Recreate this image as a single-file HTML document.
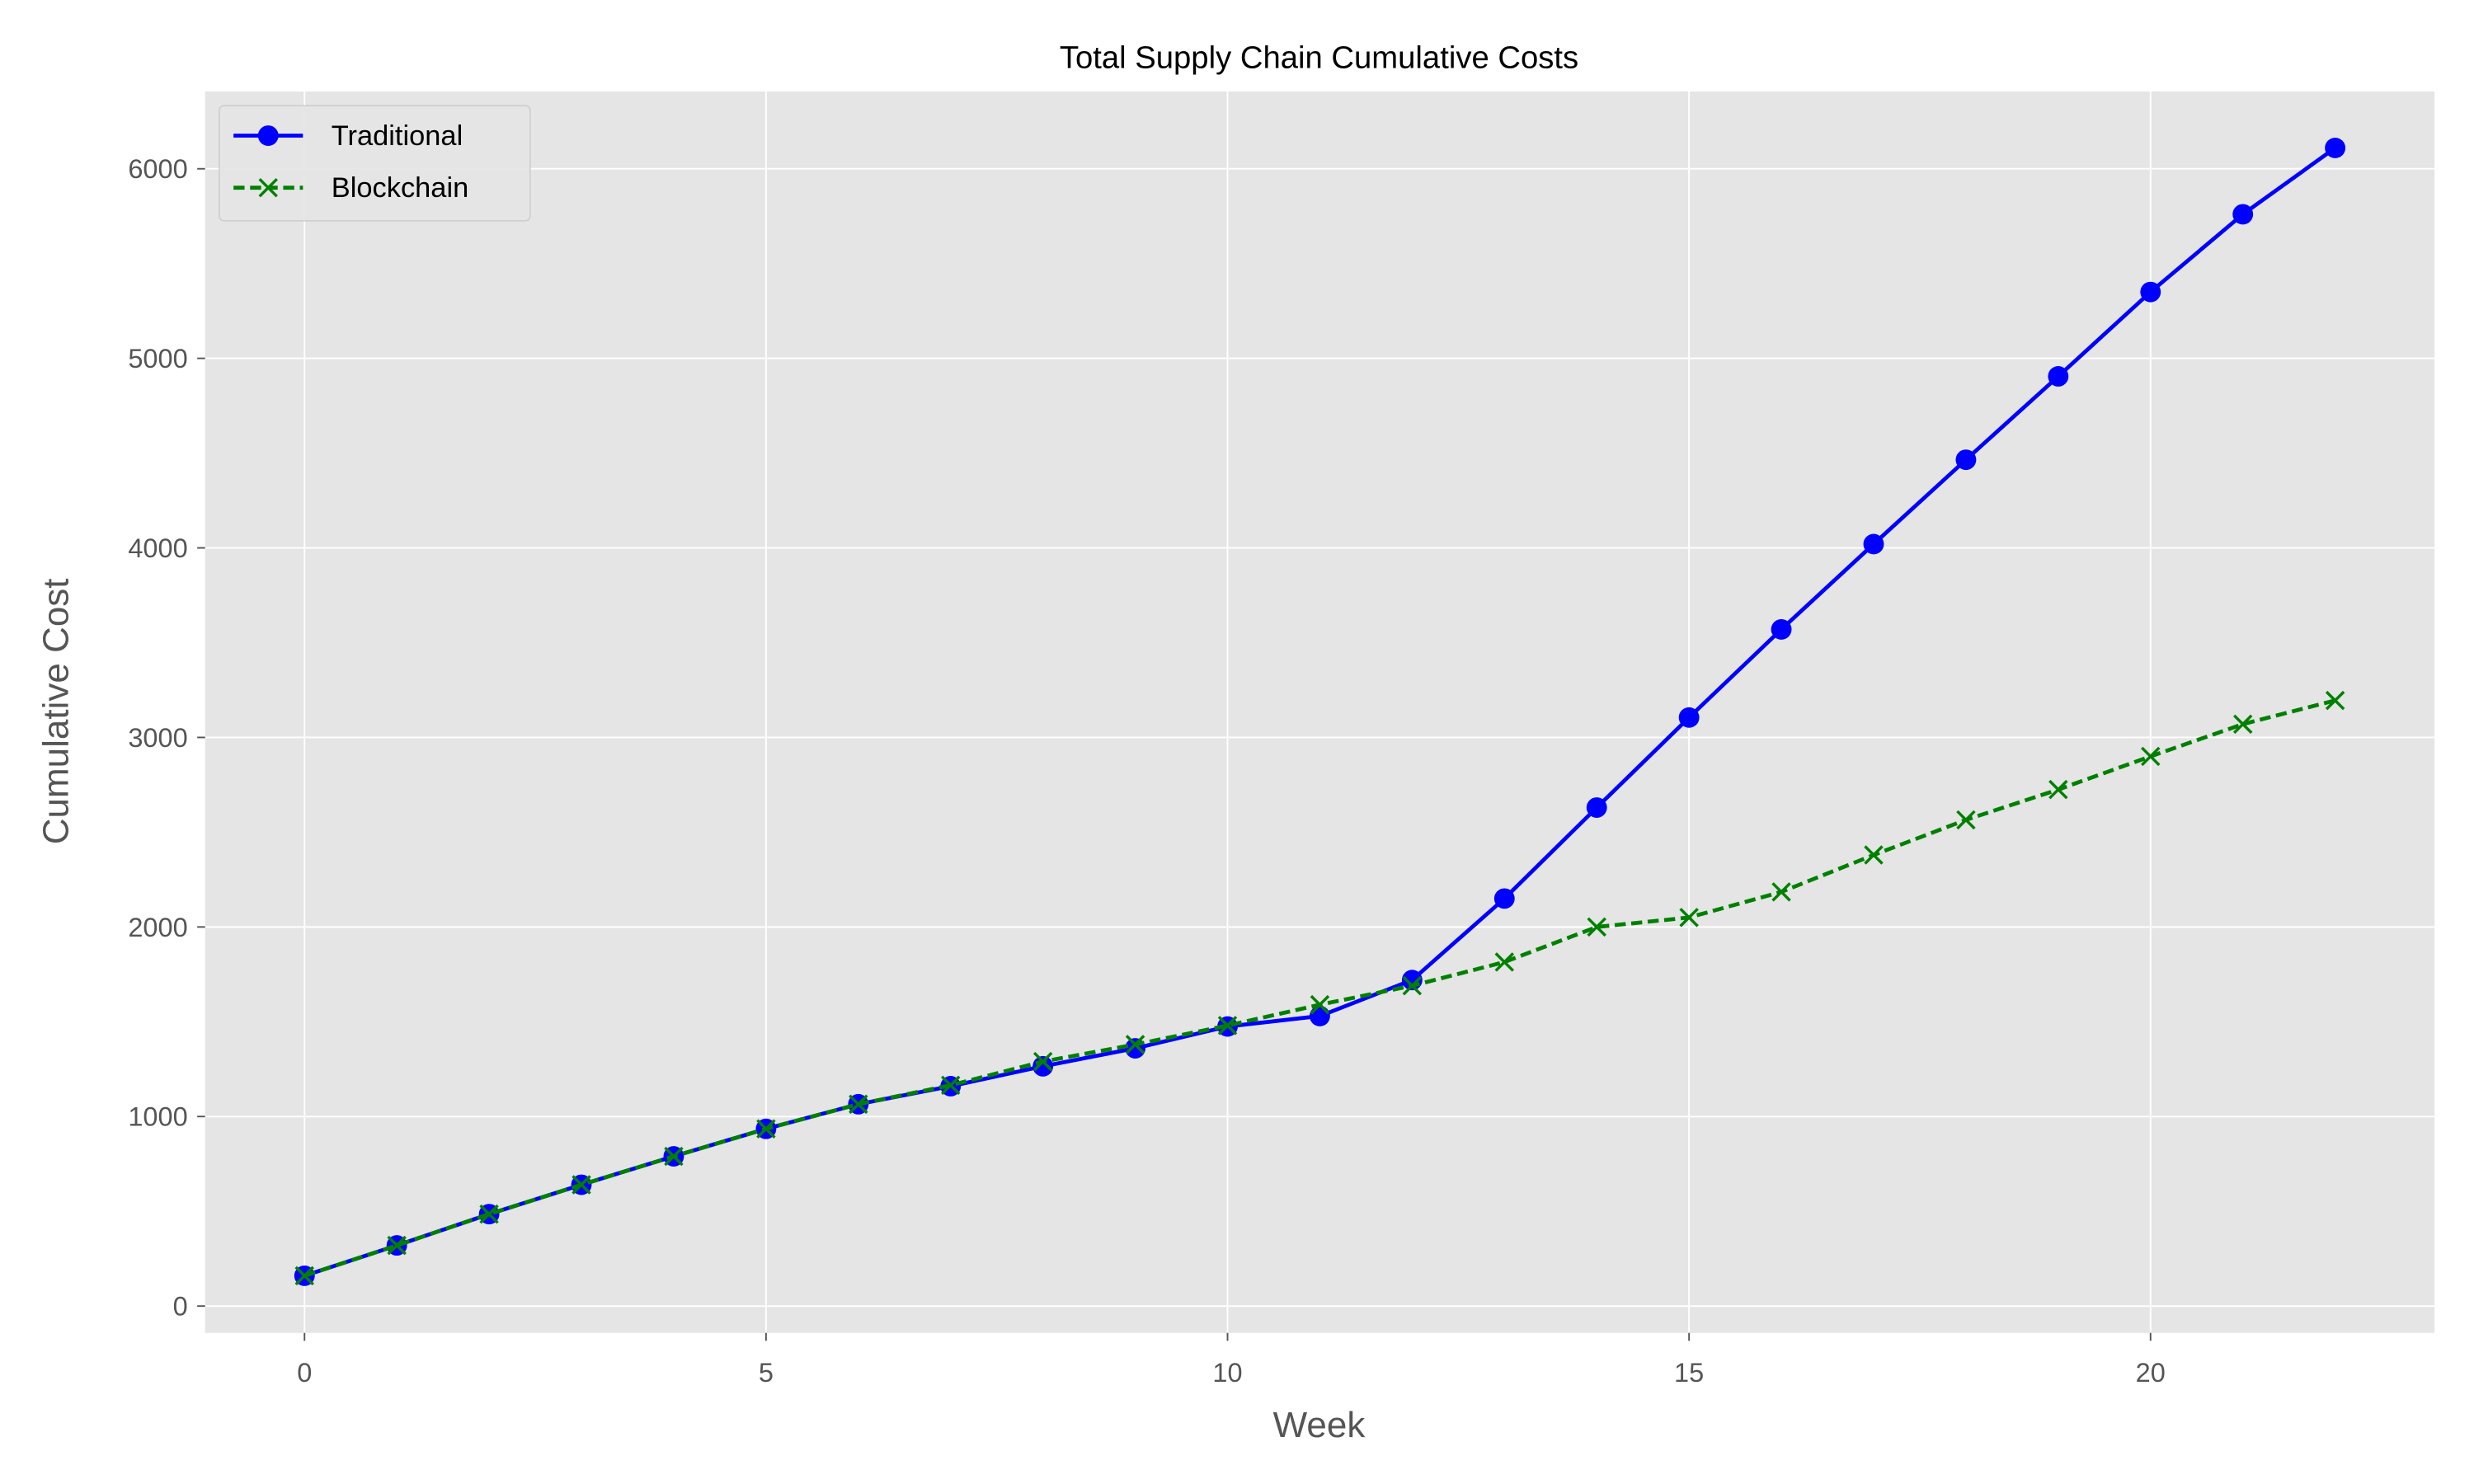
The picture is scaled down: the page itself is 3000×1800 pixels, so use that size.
<!DOCTYPE html>
<html><head><meta charset="utf-8"><style>
html,body{margin:0;padding:0;background:#fff;}
svg{display:block;font-family:"Liberation Sans","DejaVu Sans",sans-serif;}
</style></head><body>
<svg id="chart" width="3000" height="1800" viewBox="0 0 1568 940.8" xmlns="http://www.w3.org/2000/svg">
<rect x="0" y="0" width="1568" height="940.8" fill="#fff"/>
<rect x="130" y="58" width="1413" height="787" fill="#e5e5e5"/>
<g id="grid"></g>
<g id="ticks"></g>
<g id="series"></g>
<text x="836" y="43" text-anchor="middle" font-size="20" fill="#000">Total Supply Chain Cumulative Costs</text>
<text x="836" y="911" text-anchor="middle" font-size="23" fill="#555">Week</text>
<text transform="translate(43,451) rotate(-90)" text-anchor="middle" font-size="23" fill="#555">Cumulative Cost</text>
<g>
<rect x="139" y="67" width="197" height="73" rx="3" fill="#e5e5e5" stroke="#ccc" stroke-width="0.8" opacity="0.95"/>
<g>
<line x1="148" y1="86" x2="192" y2="86" stroke="#0000ff" stroke-width="2.5"/>
<circle cx="170" cy="86" r="6.5" fill="#0000ff"/>
<text x="210" y="92" font-size="18" fill="#000">Traditional</text>
</g>
<g>
<line x1="148" y1="119" x2="192" y2="119" stroke="#008000" stroke-width="2.5" stroke-dasharray="7,3.5"/>
<path d="M164.5,113.5 L175.5,124.5 M175.5,113.5 L164.5,124.5" stroke="#008000" stroke-width="1.8"/>
<text x="210" y="125" font-size="18" fill="#000">Blockchain</text>
</g>
</g>
</svg>
<script>
const weeks = [0,1,2,3,4,5,6,7,8,9,10,11,12,13,14,15,16,17,18,19,20,21,22];
const traditional = [160,320,485,640,790,935,1065,1160,1265,1360,1475,1530,1720,2150,2630,3105,3570,4020,4465,4905,5350,5760,6110];
const blockchain = [160,320,485,640,790,935,1065,1165,1290,1380,1480,1590,1690,1815,2000,2050,2185,2380,2565,2725,2900,3070,3195];
const xTicks = [0,5,10,15,20];
const yTicks = [0,1000,2000,3000,4000,5000,6000];

const NS = "http://www.w3.org/2000/svg";
function xs(v){ return 193 + v * (1480 - 193) / 22; }
function ys(v){ return 828 - v * (828 - 107) / 6000; }
function mk(tag, attrs, parent){
  const e = document.createElementNS(NS, tag);
  for (const k in attrs) e.setAttribute(k, attrs[k]);
  parent.appendChild(e);
  return e;
}
const grid = document.getElementById('grid');
const ticks = document.getElementById('ticks');
const series = document.getElementById('series');

xTicks.forEach(t => {
  const l = mk('line', {x1: xs(t), x2: xs(t), y1: 58, y2: 845, stroke: '#fff', 'stroke-width': 1}, grid);
  
  
  mk('line', {x1: xs(t), x2: xs(t), y1: 845, y2: 850, stroke: '#555', 'stroke-width': 1}, ticks);
  const tx = mk('text', {x: xs(t), y: 876, 'text-anchor': 'middle', 'font-size': 17, fill: '#555'}, ticks);
  tx.textContent = t;
  
  
});
yTicks.forEach(t => {
  const l = mk('line', {x1: 130, x2: 1543, y1: ys(t), y2: ys(t), stroke: '#fff', 'stroke-width': 1}, grid);
  
  
  mk('line', {x1: 125, x2: 130, y1: ys(t), y2: ys(t), stroke: '#555', 'stroke-width': 1}, ticks);
  const tx = mk('text', {x: 119, y: ys(t) + 6, 'text-anchor': 'end', 'font-size': 17, fill: '#555'}, ticks);
  tx.textContent = t;
  
  
});

const tp = mk('polyline', {points: weeks.map((w,i) => xs(w) + ',' + ys(traditional[i])).join(' '), fill: 'none', stroke: '#0000ff', 'stroke-width': 2.5}, series);


weeks.forEach((w,i) => {
  const c = mk('circle', {cx: xs(w), cy: ys(traditional[i]), r: 6.5, fill: '#0000ff'}, series);
  
  
});
const bp = mk('polyline', {points: weeks.map((w,i) => xs(w) + ',' + ys(blockchain[i])).join(' '), fill: 'none', stroke: '#008000', 'stroke-width': 2.5, 'stroke-dasharray': '7,3.5'}, series);


weeks.forEach((w,i) => {
  const x = xs(w), y = ys(blockchain[i]);
  const p = mk('path', {d: `M${x-5.5},${y-5.5} L${x+5.5},${y+5.5} M${x+5.5},${y-5.5} L${x-5.5},${y+5.5}`, stroke: '#008000', 'stroke-width': 1.8}, series);
  
  
});
</script>
</body></html>
